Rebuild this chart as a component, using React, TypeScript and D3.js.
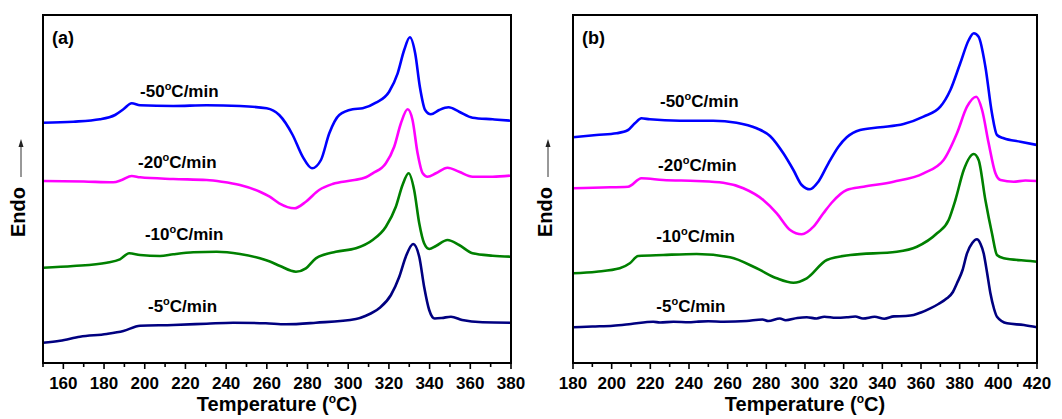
import React from "react";
import * as d3 from "d3";

type Pt = [number, number];

// ---- Panel (a): DSC heating curves after cooling at different rates ----
const A_RATE_50: Pt[] = [
  [150, 240.3], [164.9, 241.3], [178, 243.7], [185.4, 248], [189.5, 253.7], [193.6, 259.7],
  [197.7, 257.7], [214, 257], [230.4, 257.7], [246.8, 257], [259.9, 254.7], [266.1, 248],
  [272.7, 228], [277.6, 206.3], [282.2, 194.7], [286.6, 203], [290.7, 229.7], [295.6, 248],
  [302.2, 253.7], [307.1, 254.7], [313.6, 260.3], [320.1, 271.3], [324.3, 289.7], [327.5, 313],
  [330.3, 325.7], [332.9, 309.7], [335.2, 276.3], [337.8, 253], [340.6, 248.7], [344.7, 253],
  [349.3, 255.7], [354.5, 251.3], [361.1, 245.3], [371, 243.7], [380, 242.3],
];
const A_RATE_20: Pt[] = [
  [150, 182], [170, 181.5], [184.5, 180.7], [188.7, 183], [193.6, 187], [197.7, 185.7],
  [214, 184], [230.4, 183], [237.8, 181.3], [246.8, 178], [256.6, 171.3], [261.4, 166.3],
  [266.1, 159.7], [273.5, 154.7], [279.2, 161.3], [285.7, 173], [292.3, 179], [302.2, 182.7],
  [308.7, 185.7], [312, 189.7], [318.5, 199.7], [322.6, 216.3], [325.9, 239.7], [329.2, 253.7],
  [331.6, 243], [334.1, 209.7], [336.6, 189.7], [339, 186.3], [343.1, 189.7], [348.8, 195.3],
  [354.5, 191.3], [361.1, 186.3], [371, 186.3], [380, 187.5],
];
const A_RATE_10: Pt[] = [
  [150, 95.3], [164.9, 97], [181.3, 100.3], [187.8, 103.7], [192.4, 109.7], [197.7, 108],
  [207.5, 107], [214, 108.7], [223.9, 110.7], [235.4, 111.3], [246.8, 109], [256.6, 104.7],
  [261.5, 101.5], [266.5, 97], [274.3, 91.3], [279.2, 94.7], [284.1, 104.7], [293.9, 111.3],
  [303.8, 114.7], [312, 123], [318.5, 136.3], [323.4, 156.3], [326.7, 178], [329.7, 189.7],
  [332.4, 173], [334.9, 139.7], [337.3, 119.7], [339.8, 114], [343.1, 117], [348.8, 123],
  [354.5, 118], [361.1, 109.7], [371, 107.3], [380, 106.3],
];
const A_RATE_5: Pt[] = [
  [150, 20.3], [158.4, 22.3], [168.2, 26.3], [181.3, 29], [189.5, 32], [197.7, 37.3],
  [214, 38], [230.4, 39.3], [243.5, 40.3], [259.5, 39.7], [269.4, 38.7], [284.1, 40.3],
  [303.8, 44], [308.7, 47.3], [315.2, 54.7], [321, 68], [325.1, 86.3], [328.3, 106.3],
  [331.9, 119], [334.9, 106.3], [337.3, 76.3], [339.8, 53], [342.5, 44.5], [346, 45],
  [350.5, 46.3], [356, 43], [366, 40.7], [380, 40.3],
];

// ---- Panel (b) ----
const B_RATE_50: Pt[] = [
  [180, 225.7], [192.1, 228], [202.5, 229.7], [208.5, 233], [212, 239.7], [215.4, 244.7],
  [219.7, 243.7], [235.3, 242.3], [252.5, 242.3], [264.6, 240.3], [275, 234.7], [281.9, 227],
  [288.8, 209.7], [294, 193], [298.3, 178], [302.6, 173.7], [306.9, 181.3], [312.1, 199.7],
  [317.3, 216.3], [321.6, 225.7], [328.5, 233], [338.9, 235.7], [351, 239], [361.3, 246.3],
  [370, 256.3], [375.2, 273], [380.3, 299.7], [384.7, 323], [387.3, 329.7], [389.8, 326.3],
  [393.3, 296.3], [396.7, 249.7], [399.3, 228], [402.8, 224.7], [411.4, 221.3], [420, 218],
];
const B_RATE_20: Pt[] = [
  [180, 174.7], [195, 175.5], [208.5, 176.3], [215.4, 184.7], [226.6, 183], [243.9, 182],
  [257.7, 180.3], [268.1, 174.7], [278.4, 163], [285.4, 149.7], [292.3, 133], [298.3, 128.7],
  [304.4, 136.3], [309.5, 149.7], [313.9, 160.5], [321.6, 173], [330.3, 176.3], [345.8, 181.3],
  [361.3, 189.7], [371.7, 203], [378.6, 229.7], [383.8, 256.3], [388.6, 266.3], [391.6, 253],
  [395, 219.7], [398.5, 189.7], [401.1, 183], [408, 181.3], [414, 182.5], [420, 182],
];
const B_RATE_10: Pt[] = [
  [180, 89.7], [192.1, 91.3], [204.2, 94.7], [209.4, 99.7], [213.7, 107], [226.6, 108],
  [243.9, 109], [261.2, 105.7], [275, 94.7], [285.4, 84.7], [294, 80.3], [300.9, 84.7],
  [311.3, 103], [323.4, 108], [347.5, 111.3], [357.9, 116.3], [368.3, 129.7], [374.3, 143],
  [377.8, 163], [382.1, 193], [387.3, 209], [389.8, 203], [393.3, 163], [396.7, 129.7],
  [399.3, 108], [402.8, 104.7], [416.6, 102], [420, 101.3],
];
const B_RATE_5: Pt[] = [
  [180, 35.7], [190, 36.5], [200.7, 37.3], [210, 39], [221.5, 41.3], [225, 40.5], [232, 41.3],
  [240, 40.8], [243.9, 41.3], [250, 41.8], [258, 41.2], [269.8, 42], [278, 43.5], [281, 42],
  [287, 44.5], [290, 42.8], [296, 45], [300.9, 45.7], [306, 44.5], [310, 46.3], [316, 45.2],
  [321.6, 45.7], [326, 46.5], [330, 44.5], [336, 46.2], [341, 44.2], [346, 46.6], [352, 47],
  [356.2, 48], [360, 50.5], [364.8, 54.7], [369, 59], [373.4, 64.7], [376.5, 71], [378.6, 79.7],
  [381.5, 93], [383.8, 109.7], [386.5, 120], [388.9, 123.7], [390.8, 119], [392.4, 109.7],
  [394.2, 90], [395.9, 69.7], [397.8, 54], [399.3, 46.3], [404.5, 39.7], [413.2, 38], [420, 35.7],
];

// x-axis tick labels
const A_TICKS = [160, 180, 200, 220, 240, 260, 280, 300, 320, 340, 360, 380];
const B_TICKS = [180, 200, 220, 240, 260, 280, 300, 320, 340, 360, 380, 400, 420];

const RATE_LABELS = ["-50", "-20", "-10", "-5"];
const COLORS = ["#0000ff", "#ff00ff", "#008000", "#000080"];

// label anchors, in data coordinates (temperature, signal)
const A_LABEL_POS: Pt[] = [[197.7, 266], [196.7, 195], [200.1, 123], [201.6, 51]];
const B_LABEL_POS: Pt[] = [[225, 256], [224, 192], [223.1, 121], [223.1, 51]];

const Y_DOMAIN: [number, number] = [0, 348];
const TOP = 15;
const BOTTOM = 363;
const FONT = "'Liberation Sans', Arial, sans-serif";

interface PanelProps {
  tag: string;
  left: number;
  right: number;
  domain: [number, number];
  ticks: number[];
  series: Pt[][];
  labelPos: Pt[];
  yTitleX: number;
}

function Panel({ tag, left, right, domain, ticks, series, labelPos, yTitleX }: PanelProps) {
  const x = d3.scaleLinear().domain(domain).range([left, right]);
  const y = d3.scaleLinear().domain(Y_DOMAIN).range([BOTTOM, TOP]);
  const line = d3
    .line<Pt>()
    .x((d) => x(d[0]))
    .y((d) => y(d[1]))
    .curve(d3.curveMonotoneX);
  const minor = d3.range(domain[0], domain[1] + 1, 10);
  const midX = (left + right) / 2;
  const yMid = 212;

  return (
    <g>
      {series.map((s, i) => (
        <path key={i} d={line(s) ?? ""} fill="none" stroke={COLORS[i]} strokeWidth={2.6} strokeLinejoin="round" />
      ))}
      {/* frame */}
      <rect x={left} y={TOP} width={right - left} height={BOTTOM - TOP} fill="none" stroke="#000" strokeWidth={2} />
      {/* ticks */}
      {minor.map((t) => (
        <line key={"m" + t} x1={x(t)} x2={x(t)} y1={BOTTOM} y2={BOTTOM + (ticks.includes(t) ? 6 : 4)} stroke="#000" strokeWidth={1.6} />
      ))}
      {ticks.map((t) => (
        <text key={"l" + t} x={x(t)} y={389} textAnchor="middle" fontFamily={FONT} fontWeight="bold" fontSize={17} fill="#000">
          {t}
        </text>
      ))}
      <text x={midX} y={411} textAnchor="middle" fontFamily={FONT} fontWeight="bold" fontSize={20} fill="#000">
        Temperature (<tspan dy={-8} fontSize={12}>o</tspan>
        <tspan dy={8}>C)</tspan>
      </text>
      {/* panel tag */}
      <text x={left + 9} y={44} fontFamily={FONT} fontWeight="bold" fontSize={18} fill="#000">
        ({tag})
      </text>
      {/* rate labels */}
      {labelPos.map((p, i) => (
        <text key={"r" + i} x={x(p[0])} y={y(p[1])} fontFamily={FONT} fontWeight="bold" fontSize={17} fill="#000">
          {RATE_LABELS[i]}
          <tspan dy={-7} fontSize={11}>o</tspan>
          <tspan dy={7}>C/min</tspan>
        </text>
      ))}
      {/* y title with arrow */}
      <text
        transform={`translate(${yTitleX + 7},${yMid}) rotate(-90)`}
        textAnchor="middle"
        fontFamily={FONT}
        fontWeight="bold"
        fontSize={20}
        fill="#000"
      >
        Endo
      </text>
      <line x1={yTitleX + 3} x2={yTitleX + 3} y1={177} y2={146} stroke="#333" strokeWidth={1} />
      <path d={`M${yTitleX + 3},${139} L${yTitleX + 0.5},${147} L${yTitleX + 5.5},${147} Z`} fill="#222" />
    </g>
  );
}

export default function App() {
  return (
    <svg
      width={1062}
      height={419}
      viewBox="0 0 1062 419"
      style={{ position: "absolute", left: 0, top: 0, background: "#fff" }}
    >
      <rect width={1062} height={419} fill="#fff" />
      <Panel
        tag="a"
        left={43}
        right={511}
        domain={[150, 380]}
        ticks={A_TICKS}
        series={[A_RATE_50, A_RATE_20, A_RATE_10, A_RATE_5]}
        labelPos={A_LABEL_POS}
        yTitleX={18}
      />
      <Panel
        tag="b"
        left={573}
        right={1037}
        domain={[180, 420]}
        ticks={B_TICKS}
        series={[B_RATE_50, B_RATE_20, B_RATE_10, B_RATE_5]}
        labelPos={B_LABEL_POS}
        yTitleX={545}
      />
    </svg>
  );
}
